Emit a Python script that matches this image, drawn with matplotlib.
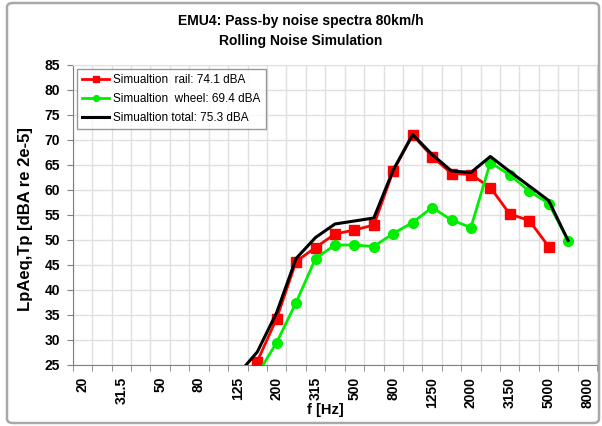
import numpy as np
import matplotlib
matplotlib.use("Agg")
import matplotlib.pyplot as plt
from matplotlib.patches import FancyBboxPatch

plt.rcParams['font.family'] = ['Liberation Sans', 'DejaVu Sans']

# 1/3 octave bands
freqs = ["20", "25", "31.5", "40", "50", "63", "80", "100", "125", "160", "200", "250",
         "315", "400", "500", "630", "800", "1000", "1250", "1600", "2000", "2500",
         "3150", "4000", "5000", "6300", "8000"]

nan = np.nan
rail = [nan] * 9 + [25.6, 34.2, 45.6, 48.4, 51.1, 51.9, 52.9, 63.7, 70.9, 66.6,
                    63.2, 63.0, 60.4, 55.1, 53.8, 48.6, nan, nan]
wheel = [nan] * 9 + [23.0, 29.4, 37.4, 46.2, 48.9, 48.9, 48.6, 51.2, 53.4, 56.4,
                     53.9, 52.4, 65.4, 62.9, 59.7, 57.2, 49.8, nan]
total = [nan] * 8 + [23.0, 27.5, 35.4, 46.2, 50.4, 53.1, 53.7, 54.3, 63.9, 71.0, 67.0,
                     63.7, 63.4, 66.6, 63.6, 60.7, 57.8, 49.8, nan]

labels = ["Simualtion  rail: 74.1 dBA", "Simualtion  wheel: 69.4 dBA",
          "Simualtion total: 75.3 dBA"]

x = np.arange(len(freqs))

fig = plt.figure(figsize=(6.02, 4.26), dpi=100)
ax = fig.add_axes([72.7 / 602, 61.5 / 426, 524.5 / 602, 300 / 426])

ax.plot(x, rail, color='#ff0000', lw=2, marker='s', ms=7, label=labels[0], zorder=3)
ax.plot(x, wheel, color='#00ee00', lw=2, marker='o', ms=7, label=labels[1], zorder=3)
ax.plot(x, total, color='black', lw=2.2, label=labels[2], zorder=4)

ax.set_xlim(-0.5, len(freqs) - 0.5)
ax.set_ylim(25, 85)
ax.set_yticks(np.arange(25, 86, 5))

# labels at every second band, tick marks at band boundaries
ax.set_xticks(x[::2])
ax.set_xticklabels(freqs[::2], rotation=90, fontweight='bold')
ax.set_xticks(np.arange(-0.5, len(freqs)), minor=True)
ax.tick_params(axis='x', which='major', length=0, pad=9, labelsize=10)
ax.tick_params(axis='x', which='minor', length=4, color='#808080', direction='out')
ax.tick_params(axis='y', length=4, color='#808080', labelsize=10, pad=5)
for t in ax.get_yticklabels():
    t.set_fontweight('bold')

ax.grid(axis='x', which='minor', color='#e0e0e0', lw=1)
ax.grid(axis='y', which='major', color='#e0e0e0', lw=1)
ax.set_axisbelow(True)

for s in ['left', 'bottom']:
    ax.spines[s].set_color('#808080')
for s in ['top', 'right']:
    ax.spines[s].set_color('#e0e0e0')

ax.set_xlabel('f [Hz]', fontsize=10.5, fontweight='bold')
ax.xaxis.set_label_coords((325 - 72.7) / 524.5, -(403 - 364.5) / 300)
ax.set_ylabel('LpAeq,Tp [dBA re 2e-5]', fontsize=12, fontweight='bold')
ax.yaxis.set_label_coords(-(72.7 - 33) / 524.5, (364.5 - 219) / 300)

fig.text(0.5, 1 - 31 / 426, 'EMU4: Pass-by noise spectra 80km/h\nRolling Noise Simulation',
         ha='center', va='center', fontsize=10, fontweight='bold', linespacing=1.6)

leg = ax.legend(loc='upper left', fontsize=8.5, frameon=True, fancybox=False,
                edgecolor='#808080', handlelength=2.3, borderaxespad=0.35,
                labelspacing=0.6, handletextpad=0.3, markerscale=0.6,
                borderpad=0.45)
leg.get_frame().set_linewidth(1)

# outer chart frame
frame = FancyBboxPatch((7 / 602, 3 / 426), 592 / 602, 420 / 426,
                       boxstyle='round,pad=0,rounding_size=0.01',
                       transform=fig.transFigure, fill=False,
                       edgecolor='#a8a8a8', lw=1.8)
fig.patches.append(frame)

fig.savefig('out.png', dpi=100)
